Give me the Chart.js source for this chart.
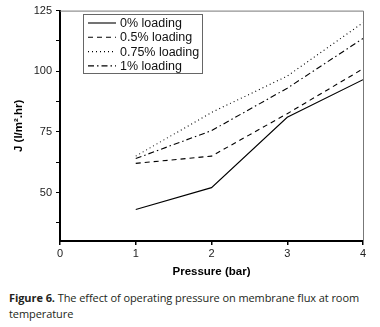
<!DOCTYPE html>
<html><head><meta charset="utf-8">
<script src="https://cdn.jsdelivr.net/npm/chart.js@4/dist/chart.umd.min.js"></script>
<style>
html,body{margin:0;padding:0;background:#fff;}
#wrap{position:relative;width:380px;height:283px;}
#cap{position:absolute;left:9px;top:290px;width:371px;font-family:"Open Sans",sans-serif;font-size:11px;letter-spacing:-0.08px;line-height:16px;color:#231f20;white-space:nowrap;}
</style></head><body>
<div id="wrap"><canvas id="c" width="380" height="283"></canvas></div>
<div id="cap"><b>Figure 6.</b> The effect of operating pressure on membrane flux at room<br>temperature</div>
<script>
const pressures = [1, 2, 3, 4];
const load0 = [43, 52, 81, 96.5];
const load05 = [62, 65, 82.5, 101];
const load075 = [65, 83, 98, 120];
const load1 = [64, 75.5, 93, 113.5];
const seriesLabels = ['0% loading', '0.5% loading', '0.75% loading', '1% loading'];
const xTicks = [0, 1, 2, 3, 4];
const yMajor = [50, 75, 100, 125];
const yMinor = [37.5, 62.5, 87.5, 112.5];

const dashes = [[], [5, 4], [1, 3], [6, 3, 1.5, 3]];
const vals = [load0, load05, load075, load1];
const datasets = vals.map((v, i) => ({
  label: seriesLabels[i],
  data: pressures.map((p, j) => ({x: p, y: v[j]})),
  borderColor: '#000', borderWidth: 1.1, borderDash: dashes[i],
  pointRadius: 0, fill: false, tension: 0
}));

const framePlugin = {
  id: 'frame',
  afterDraw(chart) {
    const {ctx, chartArea: a} = chart;
    ctx.save();
    ctx.strokeStyle = '#777'; ctx.lineWidth = 1;
    ctx.beginPath();
    ctx.moveTo(a.left, a.top + 0.5); ctx.lineTo(a.right + 0.5, a.top + 0.5); ctx.lineTo(a.right + 0.5, a.bottom);
    ctx.stroke();
    // legend
    const lx = 83.5, ly = 14.5, lw = 119, lh = 59;
    ctx.strokeStyle = '#666';
    ctx.fillStyle = '#fff';
    ctx.fillRect(lx, ly, lw, lh);
    ctx.strokeRect(lx, ly, lw, lh);
    ctx.font = '12.5px "Liberation Sans", Arial, sans-serif';
    ctx.textBaseline = 'middle';
    chart.data.datasets.forEach((ds, i) => {
      const y = 23 + i * 14.3;
      ctx.strokeStyle = '#000'; ctx.lineWidth = 1.1;
      ctx.setLineDash(ds.borderDash);
      ctx.beginPath(); ctx.moveTo(88, y); ctx.lineTo(116, y); ctx.stroke();
      ctx.setLineDash([]);
      ctx.fillStyle = '#111';
      ctx.fillText(ds.label, 120, y + 0.5);
    });
    ctx.restore();
  }
};

new Chart(document.getElementById('c'), {
  type: 'line',
  data: {datasets},
  options: {
    responsive: false, animation: false,
    layout: {padding: {top: 10, right: 17, left: 0, bottom: 4}},
    plugins: {legend: {display: false}, tooltip: {enabled: false}},
    scales: {
      x: {
        type: 'linear', min: 0, max: 4,
        afterBuildTicks(s) { s.ticks = xTicks.map(v => ({value: v})); },
        afterFit(s) { s.height = 38; },
        grid: {display: true, drawOnChartArea: false, tickLength: 4, color: '#000', lineWidth: 1.5},
        border: {color: '#000', width: 2},
        ticks: {color: '#222', font: {family: '"Liberation Sans", Arial', size: 11}, padding: 2, maxRotation: 0},
        title: {display: true, text: 'Pressure (bar)', color: '#000', font: {family: '"Liberation Sans", Arial', size: 11.5, weight: 'bold'}, padding: {top: 0, bottom: 0}}
      },
      y: {
        type: 'linear', min: 30, max: 125,
        afterBuildTicks(s) { s.ticks = yMinor.concat(yMajor).sort((a, b) => a - b).map(v => ({value: v})); },
        afterFit(s) { s.width = 60; },
        grid: {display: true, drawOnChartArea: false, tickLength: 4, color: '#000', lineWidth: 1},
        border: {color: '#000', width: 2},
        ticks: {color: '#222', font: {family: '"Liberation Sans", Arial', size: 11}, padding: 4,
          callback: v => yMajor.includes(v) ? String(v) : ''},
        title: {display: true, text: 'J (l/m\u00b2.hr)', color: '#000', font: {family: '"Liberation Sans", Arial', size: 11.5, weight: 'bold'}, padding: {top: 12, bottom: 0}}
      }
    }
  },
  plugins: [framePlugin]
});
</script>
</body></html>
